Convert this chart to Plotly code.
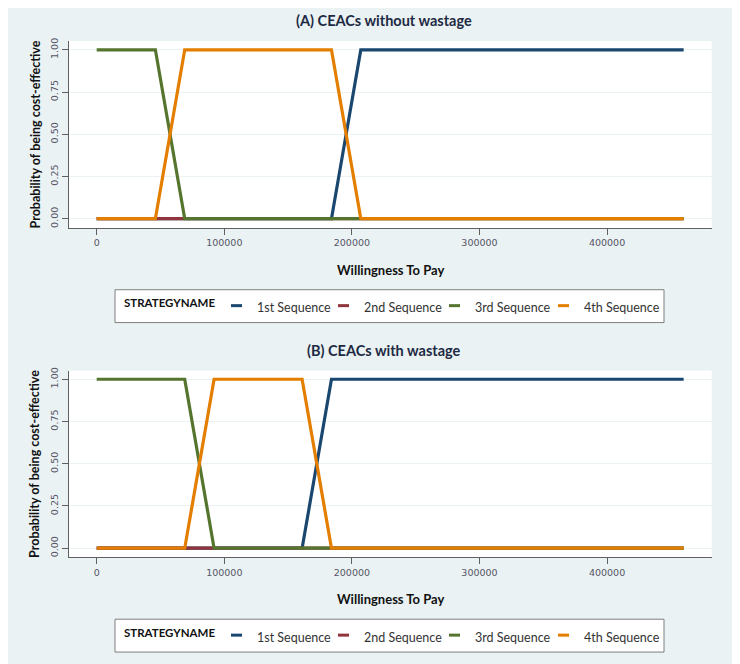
import plotly.graph_objects as go

# willingness to pay grid (x values)
wtp = [0, 23000, 46000, 69000, 92000, 115000, 138000, 161000, 184000, 207000,
       230000, 253000, 276000, 299000, 322000, 345000, 368000, 391000, 414000,
       437000, 460000]

names = ['1st Sequence', '2nd Sequence', '3rd Sequence', '4th Sequence']
colors = ['#1a476f', '#90353b', '#55752f', '#e37e00']

# (A) without wastage
a_seq1 = [0, 0, 0, 0, 0, 0, 0, 0, 0, 1, 1, 1, 1, 1, 1, 1, 1, 1, 1, 1, 1]
a_seq2 = [0, 0, 0, 0, 0, 0, 0, 0, 0, 0, 0, 0, 0, 0, 0, 0, 0, 0, 0, 0, 0]
a_seq3 = [1, 1, 1, 0, 0, 0, 0, 0, 0, 0, 0, 0, 0, 0, 0, 0, 0, 0, 0, 0, 0]
a_seq4 = [0, 0, 0, 1, 1, 1, 1, 1, 1, 0, 0, 0, 0, 0, 0, 0, 0, 0, 0, 0, 0]

# (B) with wastage
b_seq1 = [0, 0, 0, 0, 0, 0, 0, 0, 1, 1, 1, 1, 1, 1, 1, 1, 1, 1, 1, 1, 1]
b_seq2 = [0, 0, 0, 0, 0, 0, 0, 0, 0, 0, 0, 0, 0, 0, 0, 0, 0, 0, 0, 0, 0]
b_seq3 = [1, 1, 1, 1, 0, 0, 0, 0, 0, 0, 0, 0, 0, 0, 0, 0, 0, 0, 0, 0, 0]
b_seq4 = [0, 0, 0, 0, 1, 1, 1, 1, 0, 0, 0, 0, 0, 0, 0, 0, 0, 0, 0, 0, 0]

# page body has an 8px margin, so the figure is a bit smaller than the window
OFF = 8
W, H = 740 - OFF, 664 - OFF
BG = '#eaf2f3'
TXT = 'Lato'
TICK = dict(family='DejaVu Sans', size=9.5, color='#555566')


def fx(px):
    return (px - OFF) / W


def fy(py):
    return 1 - (py - OFF) / H


fig = go.Figure()

for series, ax in [([a_seq1, a_seq2, a_seq3, a_seq4], ''),
                   ([b_seq1, b_seq2, b_seq3, b_seq4], '2')]:
    for ys, n, c in zip(series, names, colors):
        fig.add_trace(go.Scatter(
            x=wtp, y=ys, mode='lines', name=n, showlegend=False,
            line=dict(color=c, width=3.2),
            xaxis='x' + ax, yaxis='y' + ax
        ))

xax = dict(range=[-21700, 482000], tickvals=[0, 100000, 200000, 300000, 400000],
           ticktext=['0', '100000', '200000', '300000', '400000'],
           showgrid=False, zeroline=False, showline=True, linecolor='#606060',
           linewidth=1, ticks='outside', ticklen=6, tickcolor='#606060',
           tickfont=TICK, domain=[fx(69), fx(711.7)])
yax = dict(range=[-0.055, 1.051], tickvals=[0, 0.25, 0.5, 0.75, 1],
           ticktext=['0.00', '0.25', '0.50', '0.75', '1.00'], tickangle=-90,
           showgrid=True, gridcolor=BG, gridwidth=1, zeroline=False,
           showline=True, linecolor='#606060', linewidth=1, ticks='outside',
           ticklen=6, tickcolor='#606060', tickfont=TICK)

fig.update_layout(
    width=W, height=H,
    margin=dict(l=0, r=0, t=0, b=0),
    paper_bgcolor=BG, plot_bgcolor='white',
    showlegend=False,
    xaxis=dict(xax, anchor='y'),
    yaxis=dict(yax, domain=[fy(226), fy(38.3)], anchor='x'),
    xaxis2=dict(xax, anchor='y2'),
    yaxis2=dict(yax, domain=[fy(557), fy(369.3)], anchor='x2'),
)

titles = ['(A) CEACs without wastage', '(B) CEACs with wastage']
for i, t in enumerate(titles):
    dy = 331 * i
    fig.add_annotation(text='<b>' + t + '</b>', xref='paper', yref='paper',
                       x=fx(384), y=fy(18 + dy), xanchor='center', yanchor='middle',
                       showarrow=False,
                       font=dict(family=TXT, size=14.5, color='#1e2a44'))
    fig.add_annotation(text='<b>Willingness To Pay</b>', xref='paper', yref='paper',
                       x=fx(390), y=fy(268 + dy), xanchor='center', yanchor='middle',
                       showarrow=False, font=dict(family=TXT, size=13, color='#111'))
    fig.add_annotation(text='<b>Probability of being cost-effective</b>',
                       xref='paper', yref='paper', x=fx(35), y=fy(132 + dy),
                       xanchor='center', yanchor='middle',
                       showarrow=False, textangle=-90,
                       font=dict(family=TXT, size=12.5, color='#111'))

    # legend box drawn by hand so the short Stata-style keys fit
    fig.add_shape(type='rect', xref='paper', yref='paper',
                  x0=fx(115), x1=fx(664), y0=fy(321 + dy), y1=fy(288 + dy),
                  fillcolor='white', line=dict(color='#7f7f7f', width=1), layer='below')
    fig.add_annotation(text='<b>STRATEGYNAME</b>', xref='paper', yref='paper',
                       x=fx(122), y=fy(301 + dy), xanchor='left', yanchor='middle',
                       showarrow=False, font=dict(family=TXT, size=11.5, color='#111'))
    key_x = [231, 338, 449, 558]
    for n, c, kx in zip(names, colors, key_x):
        fig.add_shape(type='line', xref='paper', yref='paper',
                      x0=fx(kx), x1=fx(kx + 11), y0=fy(304 + dy), y1=fy(304 + dy),
                      line=dict(color=c, width=3))
        fig.add_annotation(text=n, xref='paper', yref='paper',
                           x=fx(kx + 24), y=fy(306 + dy), xanchor='left',
                           yanchor='middle', showarrow=False,
                           font=dict(family=TXT, size=12.5, color='#333'))

fig.write_html("out.html")
